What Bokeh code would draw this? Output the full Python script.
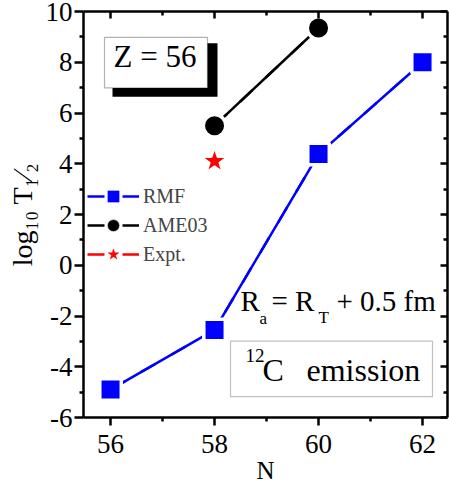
from bokeh.plotting import figure
from bokeh.models import (LinearAxis, Range1d, Label, BoxAnnotation, Legend,
                          LegendItem, FixedTicker)
from bokeh.embed import file_html
from bokeh.resources import INLINE

# ---------------- data ----------------
n_rmf = [56, 58, 60, 62]
logt_rmf = [-4.9, -2.55, 4.38, 8.0]
n_ame = [58, 60]
logt_ame = [5.5, 9.35]
n_expt = [58]
logt_expt = [4.1]

x_ticks = [56, 58, 60, 62]
x_minor = [57, 59, 61]
x_tick_labels = ["56", "58", "60", "62"]
y_ticks = [-6, -4, -2, 0, 2, 4, 6, 8, 10]
y_minor = [-5, -3, -1, 1, 3, 5, 7, 9]
y_tick_labels = ["-6", "-4", "-2", "0", "2", "4", "6", "8", "10"]

X_START, X_END = 55.48, 62.48
Y_START, Y_END = -6, 10

# frame position in the picture (px), used to place annotations
FL, FR, FT, FB = 83, 447, 11, 420
W, H = 449, 486


def xd(px):
    return X_START + (px - FL) * (X_END - X_START) / (FR - FL)


def yd(py):
    return Y_END - (py - FT) * (Y_END - Y_START) / (FB - FT)


FONT = "Liberation Serif"

p = figure(width=W, height=H,
           x_range=Range1d(X_START, X_END), y_range=Range1d(Y_START, Y_END),
           output_backend="svg", toolbar_location=None,
           min_border_left=FL, min_border_right=W - FR,
           min_border_top=FT, min_border_bottom=H - FB)
p.grid.visible = False
p.outline_line_color = None
p.background_fill_color = "white"
p.border_fill_color = "white"


def style_axis(ax, ticks, minor, labels, tin, tout, min_in, min_out, show):
    ax.ticker = FixedTicker(ticks=ticks, minor_ticks=minor)
    ax.axis_line_width = 2.5
    ax.axis_line_color = "black"
    ax.major_tick_line_width = 2.5
    ax.minor_tick_line_width = 2.5
    ax.major_tick_line_color = "black"
    ax.minor_tick_line_color = "black"
    ax.major_tick_in = tin
    ax.major_tick_out = tout
    ax.minor_tick_in = min_in
    ax.minor_tick_out = min_out
    if show:
        ax.major_label_overrides = {t: l for t, l in zip(ticks, labels)}
        ax.major_label_text_font = FONT
        ax.major_label_text_font_size = "27px"
        ax.major_label_text_color = "black"
        ax.axis_label_text_font = FONT
        ax.axis_label_text_font_style = "normal"
        ax.axis_label_text_color = "black"
    else:
        ax.major_label_overrides = {t: "" for t in ticks}
        ax.major_label_text_font_size = "1px"
        ax.major_label_standoff = 0


xa = p.xaxis[0]
ya = p.yaxis[0]
style_axis(xa, x_ticks, x_minor, x_tick_labels, 0, 8, 0, 4, True)
style_axis(ya, y_ticks, y_minor, y_tick_labels, 0, 9, 0, 4, True)
xa.major_label_standoff = 9
ya.major_label_standoff = 2
xa.axis_label = "N"
xa.axis_label_text_font_size = "25px"
xa.axis_label_standoff = 1
ya.axis_label = "log\u2081\u2080 T\u2081\u2044\u2082"
ya.axis_label_text_font_size = "28px"
ya.axis_label_standoff = 5

top = LinearAxis()
style_axis(top, x_ticks, x_minor, x_tick_labels, 7, 0, 4, 0, False)
p.add_layout(top, "above")
right = LinearAxis()
style_axis(right, y_ticks, y_minor, y_tick_labels, 7, 0, 4, 0, False)
p.add_layout(right, "right")

# ---------------- series ----------------
BLUE, RED = "#0000ff", "#ff0000"


def series(xs, ys, color, marker, size, halo, with_line=True):
    if with_line:
        p.line(xs, ys, line_color=color, line_width=2.5)
    # dashed twin (hidden under the solid line) gives the legend key its gap
    key_line = p.line(xs, ys, line_color=color, line_width=2.5, line_dash="17 18")
    key_mark = p.scatter(xs, ys, marker=marker, size=8, fill_color=color,
                         line_color=color, line_width=0.5)
    p.scatter(xs, ys, marker=marker, size=size, fill_color=color,
              line_color="white", line_width=halo)
    return [key_line, key_mark]


k_rmf = series(n_rmf, logt_rmf, BLUE, "square", 21.5, 3.5)
k_ame = series(n_ame, logt_ame, "black", "circle", 22.5, 3.5)
k_exp = series(n_expt, logt_expt, RED, "star", 27, 2, with_line=False)

legend = Legend(items=[
    LegendItem(label="RMF", renderers=k_rmf),
    LegendItem(label="AME03", renderers=k_ame),
    LegendItem(label="Expt.", renderers=k_exp),
], location=(4, 149))
legend.padding = 0
legend.margin = 0
legend.spacing = 1
legend.glyph_width = 52
legend.glyph_height = 28
legend.label_standoff = 4
legend.label_text_font = FONT
legend.label_text_font_size = "20px"
legend.label_text_baseline = "middle"
legend.border_line_color = None
legend.background_fill_alpha = 0
p.add_layout(legend)


def text(px, cap_top, s, size):
    # Bokeh's "top" anchor sits a little above the capital letters
    p.add_layout(Label(x=xd(px), y=yd(cap_top - 0.3 * size), text=s,
                       text_font=FONT, text_font_size=f"{size}px",
                       text_baseline="top", text_color="black"))


# ---------------- annotations ----------------
# Z = 56 box with shadow
p.add_layout(BoxAnnotation(left=xd(112), right=xd(217), top=yd(43), bottom=yd(97),
                           fill_color="black", fill_alpha=1, line_color=None))
p.add_layout(BoxAnnotation(left=xd(104), right=xd(207), top=yd(37), bottom=yd(88),
                           fill_color="white", fill_alpha=1, line_color="black",
                           line_width=1.2))
text(113, 48, "Z = 56", 31)

# 12C emission box
p.add_layout(BoxAnnotation(left=xd(230), right=xd(432), top=yd(343), bottom=yd(399),
                           fill_color="white", fill_alpha=1, line_color="#333333",
                           line_width=1.2))
text(245, 357, "12", 19)
text(262, 364, "C", 32)
text(306, 364, "emission", 32)

# Ra = RT + 0.5 fm
text(240, 295, "R", 29)
text(259, 316, "a", 17)
text(271, 295, "= R", 29)
text(318, 315, "T", 17)
text(336, 295, "+ 0.5 fm", 29)

open("out.html", "w").write(file_html(p, INLINE))
